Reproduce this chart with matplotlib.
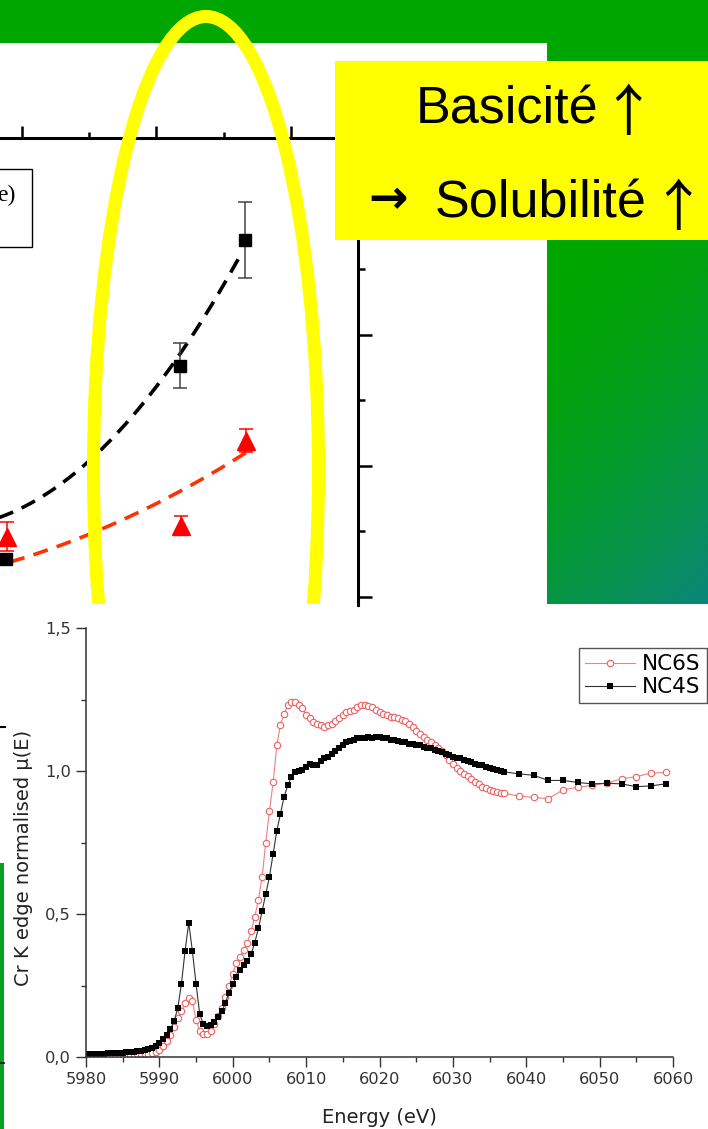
import numpy as np
import matplotlib.pyplot as plt
from matplotlib.patches import Rectangle, Ellipse
from matplotlib.ticker import MultipleLocator, FuncFormatter

W, H = 708, 1129

# --- upper plot: solubility trend (only its right end is in the frame) ---
sq_x = [1.881, 3.175, 3.658]
sq_y = [0.29, 1.763, 2.725]
sq_err = [0.03, 0.17, 0.29]
tri_x = [1.888, 3.182, 3.665]
tri_y = [0.458, 0.542, 1.19]
tri_err = [0.11, 0.07, 0.09]
# points along the dashed trend curves
trend_sq_x = [1.836, 2.506, 2.900, 3.175, 3.487, 3.621]
trend_sq_y = [0.588, 1.099, 1.466, 1.786, 2.359, 2.626]
trend_tri_x = [1.911, 2.558, 3.078, 3.673]
trend_tri_y = [0.267, 0.489, 0.763, 1.099]

# --- lower plot: Cr K-edge XANES ---
energy_fine = np.arange(5980, 6037.5, 0.5)
energy_tail = [6039, 6041, 6043, 6045, 6047, 6049, 6051, 6053, 6055, 6057, 6059]
energy = np.concatenate([energy_fine, energy_tail])

nc4s = [
    0.010, 0.010, 0.011, 0.011, 0.012, 0.012, 0.013, 0.013, 0.014, 0.014,
    0.015, 0.016, 0.017, 0.019, 0.020, 0.022, 0.024, 0.028, 0.033, 0.040,
    0.050, 0.062, 0.078, 0.098, 0.125, 0.170, 0.255, 0.370, 0.470, 0.370,
    0.255, 0.150, 0.115, 0.107, 0.112, 0.122, 0.140, 0.160, 0.190, 0.225,
    0.255, 0.280, 0.305, 0.320, 0.335, 0.360, 0.400, 0.450, 0.510, 0.570,
    0.630, 0.710, 0.790, 0.850, 0.910, 0.950, 0.980, 0.995, 1.000, 1.005,
    1.015, 1.025, 1.020, 1.020, 1.035, 1.045, 1.050, 1.060, 1.070, 1.080,
    1.090, 1.100, 1.105, 1.110, 1.115, 1.115, 1.115, 1.120, 1.115, 1.120,
    1.120, 1.115, 1.115, 1.110, 1.110, 1.105, 1.100, 1.100, 1.095, 1.095,
    1.090, 1.090, 1.085, 1.080, 1.080, 1.075, 1.070, 1.065, 1.060, 1.055,
    1.050, 1.045, 1.045, 1.040, 1.035, 1.030, 1.025, 1.020, 1.020, 1.015,
    1.010, 1.008, 1.005, 1.000, 0.997,
    0.990, 0.985, 0.967, 0.967, 0.960, 0.955, 0.957, 0.955, 0.945, 0.948, 0.955,
]
nc6s = [
    0.004, 0.004, 0.005, 0.005, 0.005, 0.005, 0.006, 0.006, 0.006, 0.007,
    0.007, 0.007, 0.008, 0.008, 0.009, 0.010, 0.011, 0.012, 0.014, 0.017,
    0.025, 0.038, 0.055, 0.078, 0.105, 0.135, 0.160, 0.190, 0.205, 0.195,
    0.130, 0.090, 0.080, 0.082, 0.092, 0.115, 0.145, 0.170, 0.210, 0.250,
    0.290, 0.330, 0.350, 0.375, 0.400, 0.440, 0.490, 0.550, 0.630, 0.750,
    0.860, 0.960, 1.090, 1.160, 1.200, 1.230, 1.240, 1.240, 1.230, 1.220,
    1.195, 1.185, 1.170, 1.165, 1.160, 1.155, 1.160, 1.165, 1.175, 1.185,
    1.195, 1.205, 1.210, 1.215, 1.225, 1.230, 1.230, 1.227, 1.225, 1.215,
    1.205, 1.200, 1.195, 1.190, 1.188, 1.185, 1.180, 1.175, 1.165, 1.155,
    1.140, 1.130, 1.120, 1.110, 1.100, 1.090, 1.080, 1.070, 1.055, 1.040,
    1.025, 1.010, 1.000, 0.990, 0.982, 0.972, 0.963, 0.955, 0.945, 0.940,
    0.935, 0.930, 0.927, 0.924, 0.922,
    0.912, 0.908, 0.903, 0.934, 0.943, 0.950, 0.958, 0.973, 0.980, 0.993, 0.995,
]

GREEN = '#00A600'
YELLOW = '#FFFF00'

fig = plt.figure(figsize=(W / 100, H / 100), dpi=100)


def px_axes(left, top, right, bottom, **kw):
    return fig.add_axes([left / W, 1 - bottom / H, (right - left) / W, (bottom - top) / H], **kw)


# background: green band on top, gradient panel on the right
bg = px_axes(0, 0, W, H, zorder=0)
bg.set_xlim(0, W)
bg.set_ylim(H, 0)
bg.axis('off')
bg.add_patch(Rectangle((0, 0), W, 43, color=GREEN, lw=0))
gx, gy = np.meshgrid(np.arange(547, W), np.arange(43, 604))
t = np.clip(((gx - 547) + (gy - 290)) / (161 + 314), 0, 1) ** 1.5
c0 = np.array([0x00, 0xA6, 0x00]) / 255
c1 = np.array([0x0A, 0x86, 0x7A]) / 255
grad = c0 + (c1 - c0) * t[..., None]
bg.imshow(grad, extent=[547, W, 604, 43], aspect='auto', interpolation='bilinear')
bg.add_patch(Rectangle((0, 863), 3.5, 266, color='#07A020', lw=0))
bg.plot([0, 3.5], [1063, 1063], color='black', lw=1.2)
bg.plot([0, 5], [727, 727], color='black', lw=1.5)

# upper plot
ax1 = px_axes(-247, 138, 358, 604.5, zorder=1)
ax1.set_facecolor('none')
ax1.set_xlim(0, 4.5)
ax1.set_ylim(-0.06, 3.5)
for s in ['left', 'bottom']:
    ax1.spines[s].set_visible(False)
for s in ['top', 'right']:
    ax1.spines[s].set_linewidth(2.2)
ax1.xaxis.set_major_locator(MultipleLocator(1))
ax1.xaxis.set_minor_locator(MultipleLocator(0.5))
ax1.yaxis.set_major_locator(MultipleLocator(1))
ax1.yaxis.set_minor_locator(MultipleLocator(0.5))
ax1.tick_params(which='both', direction='out', top=True, bottom=False, right=True, left=False,
                labeltop=False, labelbottom=False, labelleft=False, labelright=False, width=1.8)
ax1.tick_params(axis='x', which='major', length=8.5)
ax1.tick_params(axis='x', which='minor', length=4.5)
ax1.tick_params(axis='y', which='major', length=10)
ax1.tick_params(axis='y', which='minor', length=5)

cs = np.polyfit(trend_sq_x, trend_sq_y, 2)
ct = np.polyfit(trend_tri_x, trend_tri_y, 2)
xs = np.linspace(1.7, trend_sq_x[-1], 200)
xt = np.linspace(trend_tri_x[0], trend_tri_x[-1], 200)
ax1.plot(xs, np.polyval(cs, xs), color='black', lw=2.6, ls=(0, (4.2, 2.6)))
ax1.plot(xt, np.polyval(ct, xt), color='#FF3300', lw=2.6, ls=(0, (4.2, 2.6)))
ax1.errorbar(sq_x, sq_y, yerr=sq_err, fmt='s', color='black', ms=8.5, ecolor='#444444',
             elinewidth=1.1, capsize=4.7, capthick=1.1)
ax1.errorbar(tri_x, tri_y, yerr=tri_err, fmt='^', color='#FF0000', ms=13, ecolor='#FF0000',
             elinewidth=1.1, capsize=5, capthick=1.1)

# foreground: highlight ellipse, partial legend box and the yellow note
fg = px_axes(0, 0, W, H, zorder=3)
fg.set_facecolor('none')
fg.set_xlim(0, W)
fg.set_ylim(H, 0)
fg.axis('off')
fg.add_patch(Rectangle((-10, 169), 42, 78, facecolor='white', edgecolor='black', lw=1.0))
fg.text(15, 201, 'e)', ha='right', va='baseline', fontsize=17, family='Liberation Serif')
ell = Ellipse((206, 470), 225, 907, fill=False, lw=9.4, edgecolor=YELLOW)
fg.add_patch(ell)
clip = Rectangle((0, 0), W, 604, transform=fg.transData)
ell.set_clip_path(clip)
fg.add_patch(Rectangle((335, 61), 373, 179, color=YELLOW, lw=0))
sans = ['Liberation Sans', 'DejaVu Sans']
fg.text(416, 123, 'Basicité', ha='left', va='baseline', fontsize=37.5, family=sans)
fg.text(628, 131, '↑', ha='center', va='baseline', fontsize=40, family='Noto Sans CJK JP')
fg.text(368, 201, '→', ha='left', va='center', fontsize=34, fontweight='bold', family='DejaVu Sans')
fg.text(435, 218, 'Solubilité', ha='left', va='baseline', fontsize=37.5, family=sans)
fg.text(678, 226, '↑', ha='center', va='baseline', fontsize=40, family='Noto Sans CJK JP')

# lower plot: XANES spectra
ax2 = px_axes(86, 628, 673, 1057, zorder=2)
ax2.plot(energy, nc6s, color='#F08080', lw=0.8, marker='o', ms=4.6, mfc='white',
         mec='#EE6060', mew=0.8, label='NC6S')
ax2.plot(energy, nc4s, color='#333333', lw=0.8, marker='s', ms=3.8, mfc='black',
         mec='black', mew=0, label='NC4S')
ax2.set_xlim(5980, 6060)
ax2.set_ylim(0, 1.5)
for s in ['top', 'right']:
    ax2.spines[s].set_visible(False)
for s in ['left', 'bottom']:
    ax2.spines[s].set_linewidth(1.1)
    ax2.spines[s].set_color('#333333')
ax2.xaxis.set_major_locator(MultipleLocator(10))
ax2.xaxis.set_minor_locator(MultipleLocator(5))
ax2.yaxis.set_major_locator(MultipleLocator(0.5))
ax2.yaxis.set_minor_locator(MultipleLocator(0.25))
ax2.yaxis.set_major_formatter(FuncFormatter(lambda v, p: f'{v:.1f}'.replace('.', ',')))
ax2.tick_params(which='major', length=7, width=1, color='#333333', labelsize=11.7,
                labelcolor='#333333', pad=4)
ax2.tick_params(which='minor', length=3.5, width=1, color='#333333')
ax2.set_xlabel('Energy (eV)', fontsize=14, color='#222222')
ax2.set_ylabel('Cr K edge normalised μ(E)', fontsize=14, color='#222222')
ax2.xaxis.set_label_coords(0.5, -0.12)
ax2.yaxis.set_label_coords(-0.09, 0.464)
leg = ax2.legend(loc='upper right', bbox_to_anchor=(707 / W, 1 - 648 / H),
                 bbox_transform=fig.transFigure, fontsize=15.5, fancybox=False,
                 edgecolor='#555555', framealpha=1, handlelength=2.3, borderpad=0.3,
                 labelspacing=0.12, handletextpad=0.35, borderaxespad=0)
leg.get_frame().set_linewidth(1.0)

fig.savefig('out.png', dpi=100)
